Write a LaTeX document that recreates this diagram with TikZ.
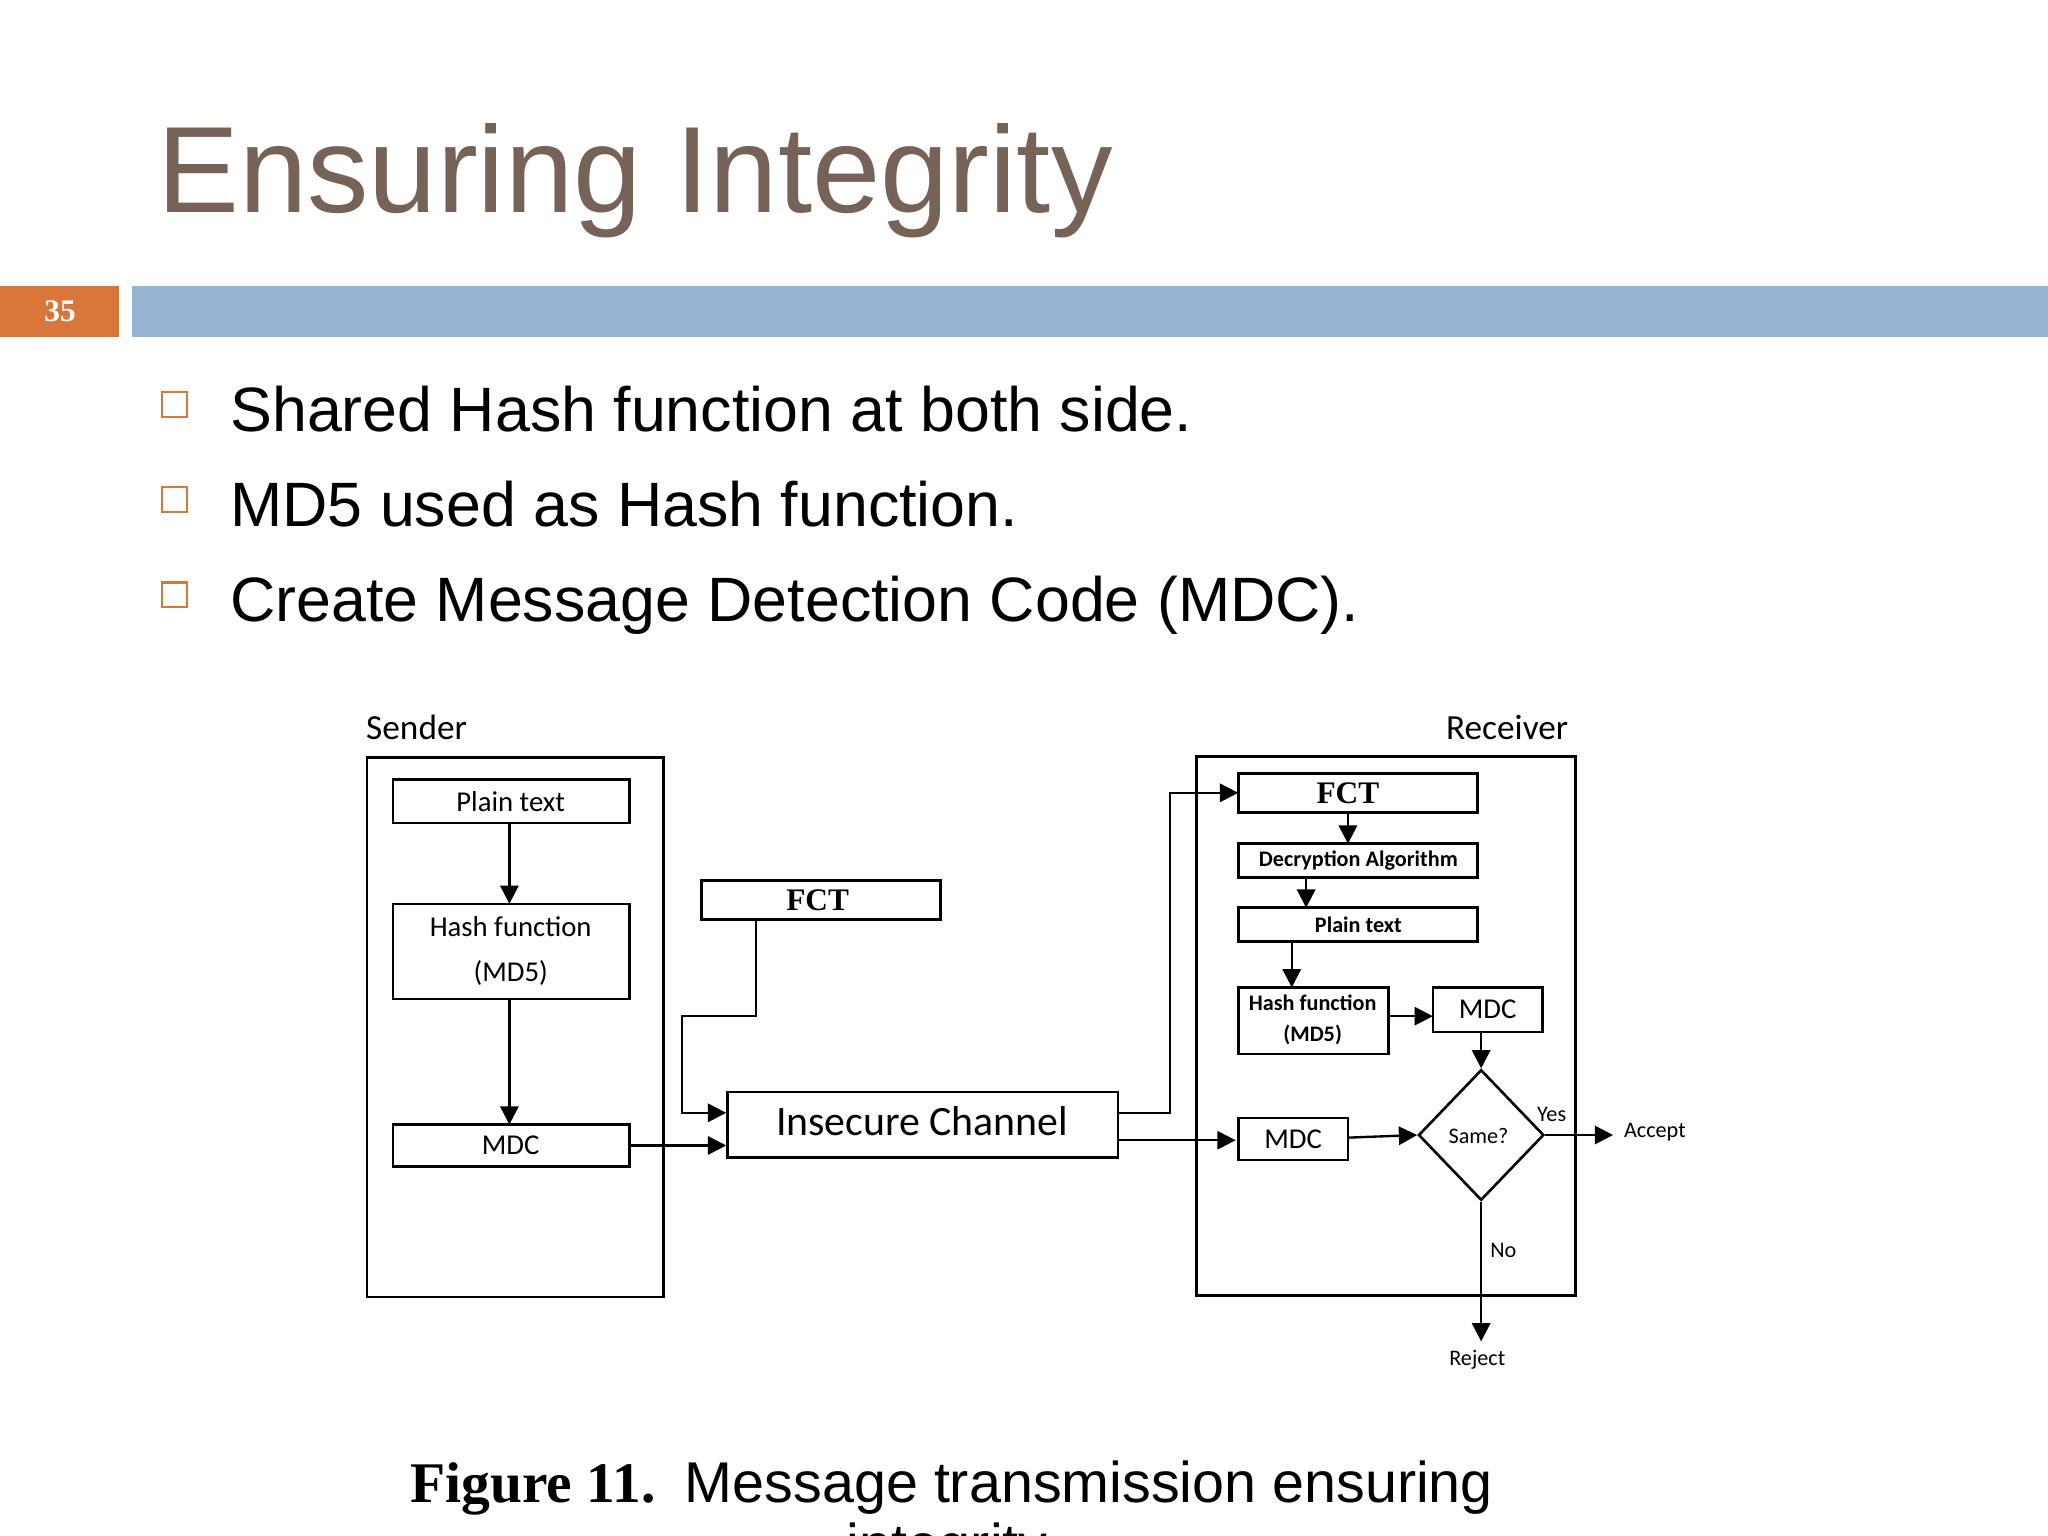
\documentclass[tikz,border=0pt]{standalone}
\usepackage{fontspec}
\setmainfont{Liberation Sans}
\newfontfamily\carl{Carlito}
\newfontfamily\serifb{Liberation Serif}
\usetikzlibrary{arrows.meta,shapes.geometric}
\definecolor{titlec}{RGB}{118,98,86}
\definecolor{orng}{RGB}{217,119,58}
\definecolor{barc}{RGB}{149,181,213}
\tikzset{x=0.5pt,y=-0.5pt,
 ar/.style={line width=0.9pt,-{Triangle[length=7pt,width=7pt]}},
 lbl/.style={font=\carl\fontsize{11}{13}\selectfont,inner sep=0pt},
 sml/.style={font=\carl\fontsize{8.5}{9}\selectfont,inner sep=0pt}}
\begin{document}
\begin{tikzpicture}
\useasboundingbox (0,0) rectangle (1568,1176);
\node[anchor=base west,inner sep=0pt,text=titlec,font=\fontsize{47}{50}\selectfont] (title) at (120,163) {Ensuring Integrity};
\fill[orng] (0,219) rectangle (91,258);
\node[text=white,font=\serifb\bfseries\fontsize{12}{12}\selectfont] (num) at (46,238) {35};
\fill[barc] (101,219) rectangle (1568,258);
\foreach \y/\t [count=\i] in {330/Shared Hash function at both side.,403/MD5 used as Hash function.,476/Create Message Detection Code (MDC).}{
 \draw[orng,line width=0.8pt] (124,\y-30) rectangle (143,\y-11);
 \node[anchor=base west,inner sep=0pt,font=\fontsize{24}{26}\selectfont] (b\i) at (176,\y) {\t};}
% sender
\node[lbl,anchor=base west,font=\carl\fontsize{13.5}{14}\selectfont] (snd) at (280,566) {Sender};
\draw[line width=1pt] (281,580) rectangle (508,993);
\draw[line width=1pt] (301,597) rectangle (482,630);
\node[lbl] (spt) at (391,614) {Plain text};
\draw[line width=1pt] (301,692) rectangle (482,765);
\node[lbl,align=center] (shf) at (391,728) {Hash function\\[4pt](MD5)};
\draw[line width=1pt] (301,861) rectangle (482,893);
\node[lbl] (smdc) at (391,877) {MDC};
\draw[ar] (390,630) -- (390,692);
\draw[ar] (390,765) -- (390,861);
% FCT top
\draw[line width=1pt] (537,674) rectangle (720,704);
\node[font=\serifb\bfseries\fontsize{12}{12}\selectfont] (fct1) at (626,689) {FCT};
\draw[line width=1pt] (557,836) rectangle (856,886);
\node[lbl,font=\carl\fontsize{16}{16}\selectfont] (ch) at (706,858) {Insecure Channel};
\draw[ar] (482,877) -- (556,877);
\draw[ar] (579,704) -- (579,778) -- (522,778) -- (522,852) -- (556,852);
% receiver
\node[lbl,anchor=base east,font=\carl\fontsize{13.5}{14}\selectfont] (rcv) at (1201,566) {Receiver};
\draw[line width=1pt] (916,579) rectangle (1206,992);
\draw[line width=1pt] (948,592) rectangle (1131,622);
\node[font=\serifb\bfseries\fontsize{12}{12}\selectfont] (fct2) at (1032,607) {FCT};
\draw[line width=1pt] (948,646) rectangle (1131,672);
\node[sml,font=\carl\bfseries\fontsize{8.5}{9}\selectfont] (dec) at (1040,659) {Decryption Algorithm};
\draw[line width=1pt] (948,695) rectangle (1131,721);
\node[sml,font=\carl\bfseries\fontsize{8.5}{9}\selectfont] (rpt) at (1040,708) {Plain text};
\draw[line width=1pt] (948,756) rectangle (1063,807);
\node[sml,align=center,font=\carl\bfseries\fontsize{8.5}{9}\selectfont] (rhf) at (1005,781) {Hash function\\[3pt](MD5)};
\draw[line width=1pt] (1097,756) rectangle (1181,790);
\node[lbl] (rmdc) at (1139,773) {MDC};
\draw[line width=1pt] (948,856) rectangle (1032,888);
\node[lbl] (rmdc2) at (990,872) {MDC};
\node[draw,line width=1pt,diamond,minimum width=48pt,minimum height=50pt,inner sep=0pt] (same) at (1134,869) {};
\node[sml] (sq) at (1132,870) {Same?};
\draw[ar] (856,852) -- (896,852) -- (896,607) -- (948,607);
\draw[ar] (856,873) -- (946,873);
\draw[ar] (1032,622) -- (1032,646);
\draw[ar] (1000,672) -- (1000,695);
\draw[ar] (989,721) -- (989,756);
\draw[ar] (1063,778) -- (1097,778);
\draw[ar] (1134,790) -- (same.north);
\draw[ar] (1032,871) -- (same.west);
\draw[ar] (same.east) -- (1235,869);
\draw[ar] (same.south) -- (1134,1027);
\node[sml] (yes) at (1188,853) {Yes};
\node[sml] (acc) at (1267,867) {Accept};
\node[sml] (no) at (1151,957) {No};
\node[sml] (rej) at (1131,1041) {Reject};
% caption
\node[anchor=base west,inner sep=0pt,font=\serifb\bfseries\fontsize{22}{24}\selectfont] (fig) at (314,1150) {Figure 11.};
\node[anchor=base west,inner sep=0pt,font=\fontsize{22}{24}\selectfont] (cap) at (524,1150) {Message transmission ensuring};
\begin{scope}
\clip (0,0) rectangle (1568,1176);
\node[anchor=base,inner sep=0pt,font=\fontsize{22}{24}\selectfont] (cap2) at (725,1198) {integrity};
\end{scope}
\end{tikzpicture}
\end{document}
